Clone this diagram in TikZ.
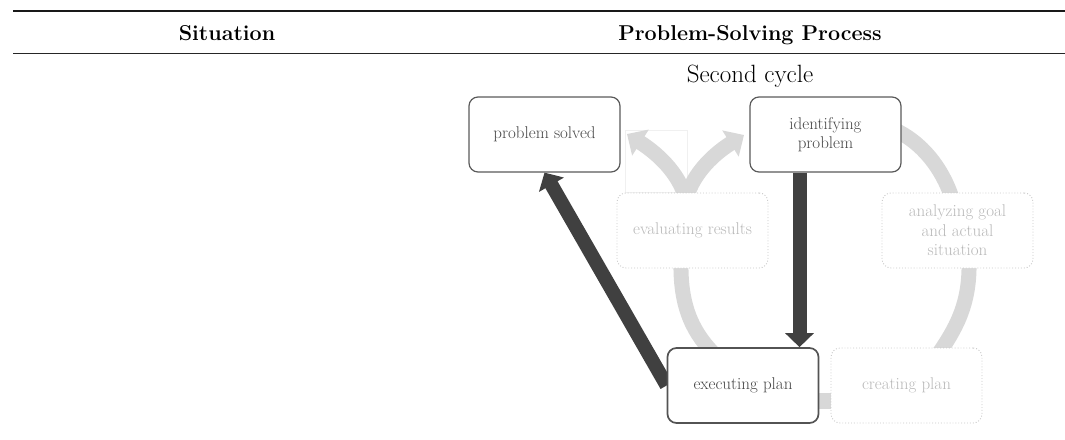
\documentclass[tikz,border=0pt]{standalone}
\usetikzlibrary{arrows.meta,backgrounds}
\definecolor{band}{RGB}{216,216,216}
\definecolor{darkarr}{RGB}{64,64,64}
\definecolor{solidline}{RGB}{90,90,90}
\definecolor{solidtext}{RGB}{70,70,70}
\definecolor{fadeline}{RGB}{200,200,200}
\definecolor{fadetext}{RGB}{185,185,185}
\definecolor{ghost}{RGB}{240,240,240}
\tikzset{
  boxbase/.style={rounded corners=9pt, minimum width=151pt, minimum height=75pt,
    fill=white, align=center, inner sep=2pt,
    font=\fontsize{17}{19.5}\selectfont},
  solidbox/.style={boxbase, draw=solidline, line width=1.2pt, text=solidtext},
  activebox/.style={boxbase, draw=darkarr!90, line width=1.7pt, text=solidtext},
  fadebox/.style={boxbase, draw=fadeline, dotted, line width=0.9pt, text=fadetext},
  bandline/.style={draw=band, line width=15pt},
  bandarrow/.style={bandline, -{Triangle[width=30pt,length=16pt]}},
  darkarrow/.style={draw=darkarr, line width=14pt, -{Triangle[width=28pt,length=14pt]}},
  headtext/.style={font=\fontsize{21.5}{24}\selectfont\bfseries, anchor=base},
}
\begin{document}
\begin{tikzpicture}[x=1pt,y=-1pt]
\useasboundingbox (0,0) rectangle (1065,439);
% table rules
\coordinate (tl) at (13,11);
\coordinate (tr) at (1065,11);
\coordinate (ml) at (13,53);
\coordinate (mr) at (1065,53);
\draw[line width=2.5pt, black!90] (tl) -- (tr);
\draw[line width=1pt, black!85] (ml) -- (mr);
\node[headtext] (hsit) at (227,40) {Situation};
\node[headtext] (hpsp) at (750,40) {Problem-Solving Process};
\node[font=\fontsize{25}{28}\selectfont, anchor=base] (cyc) at (750,82) {Second cycle};
% boxes
\node[solidbox] (ps) at (544.5,134.5) {problem solved};
\node[solidbox] (id) at (825.5,134.5) {identifying\\problem};
\node[fadebox] (ev) at (692.5,230.5) {evaluating results};
\node[fadebox] (an) at (957.5,230.5) {analyzing goal\\and actual\\situation};
\node[activebox] (ex) at (743,385.5) {executing plan};
\node[fadebox] (cr) at (906.5,385.5) {creating plan};
\begin{scope}[on background layer]
  % faint ghost frame
  \draw[ghost, line width=0.5pt] (625,130) rectangle (687,192);
  % grey cycle bands
  \coordinate (a1) at (893,129);
  \coordinate (a2) at (952,198);
  \path[bandline] (a1) .. controls (922,142) and (942,168) .. (a2);
  \coordinate (b1) at (969,262);
  \coordinate (b2) at (937,356);
  \path[bandline] (b1) .. controls (970,305) and (955,330) .. (b2);
  \coordinate (c1) at (812,401);
  \coordinate (c2) at (838,401);
  \path[draw=band, line width=16pt] (c1) -- (c2);
  \coordinate (d1) at (716,356);
  \coordinate (d2) at (681,262);
  \path[bandline] (d1) .. controls (695,335) and (680,310) .. (d2);
  \coordinate (e0) at (686,200);
  \coordinate (eL) at (627,134);
  \coordinate (eR) at (744,135);
  \path[bandarrow] (e0) .. controls (681,178) and (663,157) .. (eL);
  \path[bandarrow] (e0) .. controls (691,178) and (709,157) .. (eR);
  % dark arrows
  \path[darkarrow] (ex.west) -- (ps.south);
  \path[darkarrow] ([xshift=-26pt]id.south) -- ([xshift=-26pt]id.south |- ex.north);
\end{scope}
\end{tikzpicture}
\end{document}
